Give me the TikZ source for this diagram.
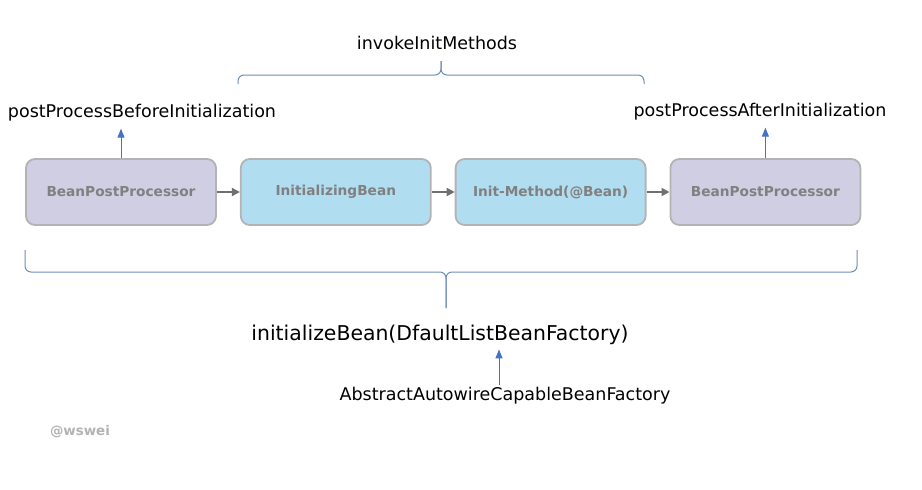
\documentclass[tikz,border=0pt]{standalone}
\usepackage{fontspec}
\setmainfont{DejaVu Sans}
\usetikzlibrary{arrows.meta, positioning}
\definecolor{beanpurple}{RGB}{208,206,226}
\definecolor{beanblue}{RGB}{177,221,240}
\definecolor{beanborder}{RGB}{179,179,179}
\definecolor{beantext}{RGB}{128,128,128}
\definecolor{flowgray}{RGB}{112,112,112}
\definecolor{callblue}{RGB}{68,114,196}
\definecolor{bracecol}{RGB}{108,142,191}
\tikzset{
    beanbox/.style={draw=beanborder, rounded corners=9pt, line width=1.8pt, minimum width=190pt, minimum height=66pt, text=beantext, font=\fontsize{13.7}{16}\selectfont\bfseries},
    beanarrow/.style={-{Triangle[length=8pt,width=8pt]}, line width=1.8pt, draw=flowgray, fill=flowgray},
    callarrow/.style={-{Triangle[length=9pt,width=7pt]}, line width=1pt, draw=callblue, fill=callblue},
    calllabel/.style={font=\fontsize{17.5}{21}\selectfont, inner sep=2pt},
    bracepath/.style={draw=bracecol, line width=1pt, rounded corners=6pt}
}

\begin{document}
\begin{tikzpicture}[x=1pt, y=-1pt, node distance=23pt]
  \useasboundingbox (0,0) rectangle (922,490);
  % the four steps
  \node[beanbox, fill=beanpurple] (bpp1) at (121,192) {BeanPostProcessor};
  \node[beanbox, fill=beanblue, right=of bpp1] (ib) {InitializingBean};
  \node[beanbox, fill=beanblue, right=of ib] (im) {Init-Method(@Bean)};
  \node[beanbox, fill=beanpurple, right=of im] (bpp2) {BeanPostProcessor};
  \draw[beanarrow] (bpp1) -- (ib);
  \draw[beanarrow] (ib) -- (im);
  \draw[beanarrow] (im) -- (bpp2);
  % callbacks
  \node[calllabel] (pbi) at (142,113) {postProcessBeforeInitialization};
  \node[calllabel] (pai) at (760,112) {postProcessAfterInitialization};
  \draw[callarrow, shorten >=5pt] (bpp1.north) -- (bpp1.north |- pbi.south);
  \draw[callarrow, shorten >=5pt] (bpp2.north) -- (bpp2.north |- pai.south);
  % invokeInitMethods brace
  \node[calllabel] (iim) at (437,43) {invokeInitMethods};
  \coordinate (iimtip) at (441,61);
  \draw[bracepath] (238,84) |- (441,75) -- (iimtip);
  \draw[bracepath] (644,84) |- (441,75) -- (iimtip);
  % initializeBean brace
  \coordinate (ibtip) at (446,308);
  \draw[bracepath] (25,250) |- (446,272) -- (ibtip);
  \draw[bracepath] (857,250) |- (446,272) -- (ibtip);
  \node[font=\fontsize{20.4}{24}\selectfont] (ibean) at (440,335) {initializeBean(DfaultListBeanFactory)};
  \node[calllabel] (aacbf) at (505,396) {AbstractAutowireCapableBeanFactory};
  \draw[callarrow, shorten >=1pt] ([xshift=-6pt]aacbf.north) -- ([xshift=-6pt]aacbf.north |- ibean.south);
  \node[text=beanborder, font=\fontsize{13.4}{16}\selectfont\bfseries] (sig) at (80,432) {@wswei};
\end{tikzpicture}
\end{document}
